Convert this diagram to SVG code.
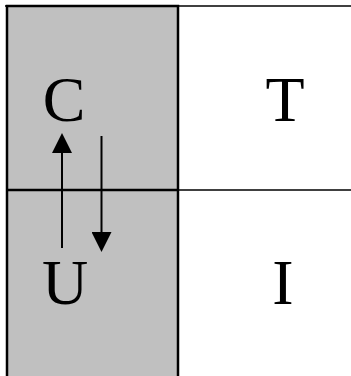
<svg xmlns="http://www.w3.org/2000/svg" width="351" height="376" viewBox="0 0 351 376">
<style>
.thin{stroke:#000;stroke-width:1.5;fill:none}
.thick{stroke:#000;stroke-width:2.5;fill:none}
.conn{stroke:#000;stroke-width:2;fill:none}
</style>
<defs>
<marker id="ah" viewBox="0 0 20 20" refX="0" refY="10" markerWidth="20" markerHeight="20" markerUnits="userSpaceOnUse" orient="auto">
<path d="M0,0 L20,10 L0,20 Z" fill="#000"/>
</marker>
</defs>
<rect x="0" y="0" width="351" height="376" fill="#fff"/>
<g id="grid">
<line class="thin" x1="5" y1="6" x2="351" y2="6"/>
<line class="thin" x1="178" y1="190" x2="351" y2="190"/>
<rect x="7" y="6" width="171" height="375" fill="#c0c0c0" stroke="#000" stroke-width="2.5"/>
<line class="thick" x1="7" y1="190" x2="178" y2="190"/>
</g>
<g font-family="Liberation Serif" font-size="64" text-anchor="middle" fill="#000">
<g id="C"><text x="64" y="121">C</text></g>
<g id="T"><text x="285" y="121">T</text></g>
<g id="U"><text x="65" y="304">U</text></g>
<g id="I"><text x="283" y="304">I</text></g>
</g>
<g id="connectors">
<line class="conn" x1="62" y1="248" x2="62" y2="153" marker-end="url(#ah)"/>
<line class="conn" x1="101.5" y1="136" x2="101.5" y2="232" marker-end="url(#ah)"/>
</g>
</svg>
